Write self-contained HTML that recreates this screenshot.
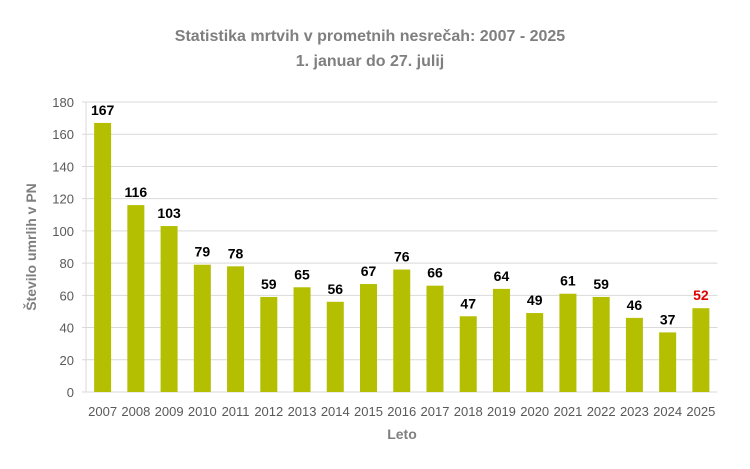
<!DOCTYPE html>
<html><head><meta charset="utf-8"><style>
body{margin:0;background:#fff;}
svg{display:block;font-family:"Liberation Sans",sans-serif;}
</style></head><body>
<svg id="c" width="750" height="469">
<text x="370" y="41" text-anchor="middle" font-size="16" font-weight="bold" fill="#7f7f7f">Statistika mrtvih v prometnih nesrečah: 2007 - 2025</text>
<text x="370" y="66" text-anchor="middle" font-size="16" font-weight="bold" fill="#7f7f7f">1. januar do 27. julij</text>
<text transform="translate(36,247) rotate(-90)" text-anchor="middle" font-size="14" font-weight="bold" fill="#7f7f7f">Število umrlih v PN</text>
<text x="402" y="439" text-anchor="middle" font-size="14" font-weight="bold" fill="#7f7f7f">Leto</text>
<g id="grid"></g><g id="bars"></g>
</svg>
<script>
const categories=["2007","2008","2009","2010","2011","2012","2013","2014","2015","2016","2017","2018","2019","2020","2021","2022","2023","2024","2025"];
const values=[167,116,103,79,78,59,65,56,67,76,66,47,64,49,61,59,46,37,52];
const yTicks=[0,20,40,60,80,100,120,140,160,180];
const NS="http://www.w3.org/2000/svg";
const x0=86,x1=717.5,y0=392,y1=102,yMax=180;
const band=(x1-x0)/categories.length;
const y=v=>y0-(v/yMax)*(y0-y1);
const xc=i=>x0+band*(i+0.5);
const g=document.getElementById('grid'),b=document.getElementById('bars');
function mk(tag,attrs,parent){const e=document.createElementNS(NS,tag);for(const k in attrs)e.setAttribute(k,attrs[k]);parent.appendChild(e);return e;}
yTicks.forEach(t=>{
  const l=mk('line',{x1:x0-4,x2:x1,y1:y(t),y2:y(t),stroke:'#d9d9d9','stroke-width':1},g);
  
  
  const tx=mk('text',{x:x0-12,y:y(t)+5,'text-anchor':'end','font-size':13,fill:'#595959'},g);
  tx.textContent=t;
  
  
});
const ax=mk('line',{x1:x0,x2:x0,y1:y1,y2:y0,stroke:'#d9d9d9'},g);


categories.forEach((c,i)=>{
  const v=values[i],w=17;
  const r=mk('rect',{x:xc(i)-w/2,y:y(v),width:w,height:y0-y(v),fill:'#b3bf00'},b);
  
  
  const lb=mk('text',{x:xc(i),y:y(v)-8,'text-anchor':'middle','font-size':14,'font-weight':'bold',fill:c==='2025'?'#e00000':'#000'},b);
  lb.textContent=v;
  
  
  const xl=mk('text',{x:xc(i),y:416,'text-anchor':'middle','font-size':13,fill:'#595959'},b);
  xl.textContent=c;
  
  
});
</script>
</body></html>
